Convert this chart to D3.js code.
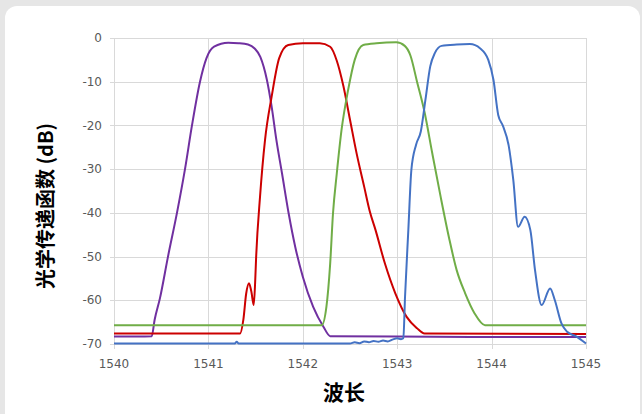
<!DOCTYPE html>
<html>
<head>
<meta charset="utf-8">
<script src="https://cdn.jsdelivr.net/npm/d3@7"></script>
<style>
  body { margin: 0; background: #e6e6e6; }
  svg { display: block; }
</style>
</head>
<body>
<div id="chart"></div>
<script>
// wavelength (nm), transfer function (dB)
const purple = [
  [1540.00, -68.3], [1540.40, -68.2], [1540.43, -64.5], [1540.487, -59.5], [1540.572, -50.0],
  [1540.667, -40.0], [1540.752, -30.0], [1540.826, -20.0], [1540.911, -10.0], [1540.98, -4.6],
  [1541.06, -2.0], [1541.21, -1.1], [1541.32, -1.2], [1541.42, -1.5], [1541.49, -2.4],
  [1541.55, -4.3], [1541.62, -9.6], [1541.67, -15.7], [1541.72, -23.3], [1541.78, -31.0],
  [1541.85, -40.1], [1541.92, -47.8], [1542.00, -54.6], [1542.11, -61.5], [1542.22, -66.1],
  [1542.29, -68.2], [1543.00, -68.3], [1544.00, -68.4], [1545.00, -68.4]
];
const red = [
  [1540.00, -67.6], [1541.335, -67.6], [1541.37, -64.5], [1541.40, -58.5], [1541.43, -56.1],
  [1541.455, -58.0], [1541.48, -61.1], [1541.495, -56.0], [1541.505, -50.5], [1541.547, -36.3],
  [1541.60, -23.3], [1541.67, -13.4], [1541.75, -4.6], [1541.846, -1.6], [1542.00, -1.2],
  [1542.18, -1.2], [1542.29, -2.0], [1542.36, -5.2], [1542.43, -11.0], [1542.50, -18.7],
  [1542.57, -26.4], [1542.65, -34.0], [1542.71, -39.7], [1542.77, -43.9], [1542.87, -51.6],
  [1542.98, -58.4], [1543.10, -63.8], [1543.21, -66.4], [1543.29, -67.6], [1545.00, -67.7]
];
const green = [
  [1540.00, -65.7], [1542.20, -65.7], [1542.25, -61.5], [1542.29, -51.6], [1542.32, -40.1],
  [1542.36, -31.0], [1542.41, -21.1], [1542.48, -11.9], [1542.55, -5.0], [1542.64, -1.6],
  [1542.78, -1.2], [1542.99, -1.0], [1543.08, -1.8], [1543.14, -4.0], [1543.21, -10.0],
  [1543.29, -17.0], [1543.37, -26.2], [1543.46, -36.3], [1543.55, -45.8], [1543.63, -53.1],
  [1543.72, -58.4], [1543.82, -63.0], [1543.93, -65.7], [1545.00, -65.7]
];
const blue = [
  [1540.00, -69.9], [1541.28, -69.9], [1541.30, -69.5], [1541.32, -69.9], [1542.50, -69.9],
  [1542.55, -69.6], [1542.60, -69.8], [1542.65, -69.4], [1542.70, -69.6], [1542.75, -69.3],
  [1542.80, -69.5], [1542.85, -69.2], [1542.90, -69.4], [1542.95, -69.0], [1543.00, -68.7],
  [1543.04, -68.9], [1543.065, -68.7], [1543.083, -59.2], [1543.118, -43.9], [1543.15, -30.2],
  [1543.20, -24.4], [1543.25, -21.4], [1543.30, -14.0], [1543.35, -6.5], [1543.40, -3.4],
  [1543.47, -1.8], [1543.63, -1.5], [1543.77, -1.4], [1543.88, -2.4], [1543.965, -5.0],
  [1544.02, -9.6], [1544.07, -17.6], [1544.12, -20.1], [1544.18, -24.5], [1544.23, -32.5],
  [1544.28, -43.2], [1544.35, -40.9], [1544.41, -43.9], [1544.46, -53.1], [1544.53, -61.1],
  [1544.62, -57.3], [1544.67, -60.0], [1544.74, -65.3], [1544.80, -67.2], [1544.90, -68.3],
  [1545.00, -69.9]
];

const xTicks = [1540, 1541, 1542, 1543, 1544, 1545];
const yTicks = [0, -10, -20, -30, -40, -50, -60, -70];
const series = [
  { name: 'ch1', color: '#7030a0', data: purple },
  { name: 'ch2', color: '#cc0000', data: red },
  { name: 'ch3', color: '#70ad47', data: green },
  { name: 'ch4', color: '#4472c4', data: blue }
];

const W = 642, H = 414;
const plot = { left: 114, right: 586, top: 38, bottom: 344 };

const svg = d3.select('#chart').append('svg')
  .attr('width', W)
  .attr('height', H);

// white card
svg.append('rect')
  .attr('x', 5).attr('y', 6)
  .attr('width', 635).attr('height', 440)
  .attr('rx', 12)
  .attr('fill', '#ffffff');

const x = d3.scaleLinear().domain([1540, 1545]).range([plot.left, plot.right]);
const y = d3.scaleLinear().domain([-70, 0]).range([plot.bottom, plot.top]);

// gridlines + ticks
const grid = svg.append('g').attr('stroke', '#d9d9d9').attr('stroke-width', 1);
grid.selectAll('line.h').data(yTicks).join('line')
  .attr('x1', plot.left - 4).attr('x2', plot.right)
  .attr('y1', (d) => Math.round(y(d)) + 0.5).attr('y2', (d) => Math.round(y(d)) + 0.5);
grid.selectAll('line.v').data(xTicks).join('line')
  .attr('y1', plot.top).attr('y2', plot.bottom + 5)
  .attr('x1', (d) => Math.round(x(d)) + 0.5).attr('x2', (d) => Math.round(x(d)) + 0.5);

// tick labels
svg.append('g').selectAll('text').data(yTicks).join('text')
  .attr('x', plot.left - 12)
  .attr('y', (d) => y(d))
  .attr('dy', '0.35em')
  .attr('text-anchor', 'end')
  .attr('font-family', 'DejaVu Sans, sans-serif')
  .attr('font-size', 12)
  .attr('fill', '#595959')
  .text((d) => d);

svg.append('g').selectAll('text').data(xTicks).join('text')
  .attr('x', (d) => x(d))
  .attr('y', 368)
  .attr('text-anchor', 'middle')
  .attr('font-family', 'DejaVu Sans, sans-serif')
  .attr('font-size', 12)
  .attr('fill', '#595959')
  .text((d) => d);

// series lines
const line = d3.line()
  .curve(d3.curveMonotoneX)
  .x((d) => x(d[0]))
  .y((d) => y(d[1]));

svg.append('g').selectAll('path').data(series).join('path')
  .attr('fill', 'none')
  .attr('stroke', (d) => d.color)
  .attr('stroke-width', 2)
  .attr('stroke-linejoin', 'round')
  .attr('d', (d) => line(d.data));

// axis titles
svg.append('text')
  .attr('x', 344)
  .attr('y', 400)
  .attr('text-anchor', 'middle')
  .attr('font-family', 'Noto Sans CJK SC, sans-serif')
  .attr('font-weight', 'bold')
  .attr('font-size', 21)
  .attr('fill', '#000')
  .text('波长');

svg.append('text')
  .attr('transform', 'translate(53,206) rotate(-90)')
  .attr('text-anchor', 'middle')
  .attr('font-family', 'Noto Sans CJK SC, sans-serif')
  .attr('font-weight', 'bold')
  .attr('font-size', 20)
  .attr('fill', '#000')
  .text('光学传递函数 (dB)');
</script>
</body>
</html>
